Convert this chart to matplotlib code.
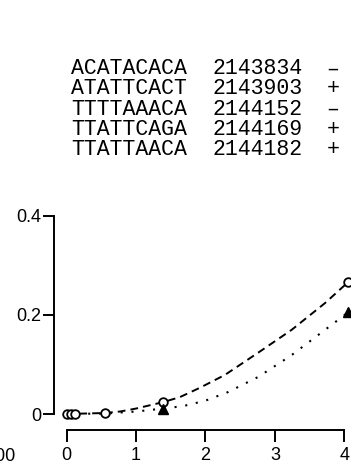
import matplotlib
matplotlib.use("Agg")
import matplotlib.pyplot as plt

plt.rcParams['font.family'] = ['Liberation Sans', 'DejaVu Sans']

# sequence table above the plot
seqs = ["ACATACACA", "ATATTCACT", "TTTTAAACA", "TTATTCAGA", "TTATTAACA"]
positions = ["2143834", "2143903", "2144152", "2144169", "2144182"]
strands = ["\u2013", "+", "\u2013", "+", "+"]

# measured points
circ_x = [0, 0.06, 0.125, 0.55, 1.39, 4.05]
circ_y = [0, 0, 0, 0.002, 0.024, 0.266]
tri_x = [1.39, 4.05]
tri_y = [0.011, 0.205]

# fitted curves
dash_x = [0, 0.55, 0.77, 1.0, 1.39, 1.63, 1.92, 2.28, 2.76, 3.24, 3.72, 4.05]
dash_y = [0, 0.002, 0.005, 0.011, 0.024, 0.034, 0.053, 0.079, 0.124, 0.170, 0.224, 0.266]
dot_x = [0, 0.55, 1.0, 1.39, 1.68, 2.0, 2.32, 2.76, 3.24, 3.72, 4.05]
dot_y = [0, 0.001, 0.005, 0.011, 0.016, 0.027, 0.044, 0.075, 0.119, 0.170, 0.205]

W, H = 351, 474
fig = plt.figure(figsize=(W / 100, H / 100), dpi=100)
ax = fig.add_axes([54 / W, 44 / H, 297 / W, 220 / H])

ax.plot(dash_x, dash_y, color='black', lw=1.4, dashes=(4, 2.6), clip_on=False)
ax.plot(dot_x, dot_y, color='black', lw=1.5, linestyle=(0, (1, 4.2)), clip_on=False)
ax.plot(circ_x, circ_y, linestyle='none', marker='o', ms=6.2, mfc='white',
        mec='black', mew=1.3, clip_on=False)
ax.plot(tri_x, tri_y, linestyle='none', marker='^', ms=7, color='black', clip_on=False)

ax.set_xlim(-0.18, 4.094)
ax.set_ylim(-0.0323, 0.412)
ax.spines['top'].set_visible(False)
ax.spines['right'].set_visible(False)
ax.spines['left'].set_bounds(0, 0.4)
ax.spines['bottom'].set_bounds(0, 4)
for s in ['left', 'bottom']:
    ax.spines[s].set_linewidth(1.4)

ax.set_yticks([0, 0.2, 0.4])
ax.set_yticklabels(["0", "0.2", "0.4"])
ax.set_xticks([0, 1, 2, 3, 4])
ax.set_xticklabels(["0", "1", "2", "3", "4"])
ax.tick_params(axis='y', length=8, width=1.4, pad=1, labelsize=13)
ax.tick_params(axis='x', length=8.5, width=1.4, pad=3.5, labelsize=13)

# table text
for i in range(len(seqs)):
    yb = (H - (74.3 + 20.2 * i)) / H
    fig.text(71 / W, yb, seqs[i], family='Liberation Mono', fontsize=15.5, va='baseline')
    fig.text(213 / W, yb, positions[i], family='Liberation Mono', fontsize=15.5, va='baseline')
    fig.text(333 / W, yb, strands[i], family='Liberation Mono', fontsize=15.5,
             va='baseline', ha='center')

# cut-off label from the neighbouring panel (cut in the reference too)
fig.text(16 / W, 13 / H, "100", ha='right', va='baseline', fontsize=13)

fig.savefig("out.png", dpi=100)
